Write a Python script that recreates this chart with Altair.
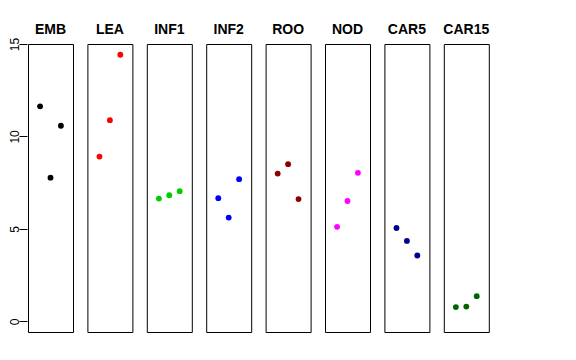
import altair as alt
import pandas as pd

panels = ["EMB", "LEA", "INF1", "INF2", "ROO", "NOD", "CAR5", "CAR15"]
colors = ["#000000", "#FF0000", "#00CD00", "#0000FF", "#8B0000", "#FF00FF", "#00008B", "#006400"]
positions = [1, 2, 3]

emb = [11.63, 7.77, 10.58]
lea = [8.91, 10.88, 14.42]
inf1 = [6.64, 6.82, 7.04]
inf2 = [6.66, 5.61, 7.69]
roo = [7.99, 8.50, 6.61]
nod = [5.11, 6.51, 8.03]
car5 = [5.05, 4.35, 3.56]
car15 = [0.77, 0.80, 1.36]

series = [emb, lea, inf1, inf2, roo, nod, car5, car15]
y_ticks = [0, 5, 10, 15]

rows = []
for name, vals in zip(panels, series):
    for p, v in zip(positions, vals):
        rows.append({"panel": name, "pos": p, "value": v})
df = pd.DataFrame(rows)

base = alt.Chart(df).mark_circle(size=34, opacity=1).encode(
    x=alt.X("pos:Q", scale=alt.Scale(domain=[-0.16, 4.16], nice=False, zero=False), axis=None),
    y=alt.Y(
        "value:Q",
        scale=alt.Scale(domain=[-0.577, 15.0], nice=False, zero=False),
        axis=alt.Axis(
            values=y_ticks,
            grid=False,
            domain=False,
            ticks=True,
            tickSize=8,
            tickColor="black",
            tickWidth=1,
            labelAngle=270,
            labelAlign="center",
            labelBaseline="alphabetic",
            labelFont="Liberation Sans",
            labelFontSize=12,
            labelColor="black",
            labelPadding=1,
            title=None,
        ),
    ),
    color=alt.Color("panel:N", scale=alt.Scale(domain=panels, range=colors), legend=None),
).properties(width=45, height=288)

chart = base.facet(
    column=alt.Column(
        "panel:N",
        sort=panels,
        title=None,
        header=alt.Header(
            labelOrient="top",
            labelFont="Liberation Sans",
            labelFontSize=14,
            labelFontWeight="bold",
            labelColor="black",
            labelBaseline="bottom",
            labelPadding=-8,
        ),
    ),
    spacing=12.4,
).properties(
    padding={"left": 0, "top": 15, "right": 5, "bottom": 5}
).configure_view(stroke="black", strokeWidth=1)

chart.save("out.html", embed_options={"renderer": "svg", "actions": False})
